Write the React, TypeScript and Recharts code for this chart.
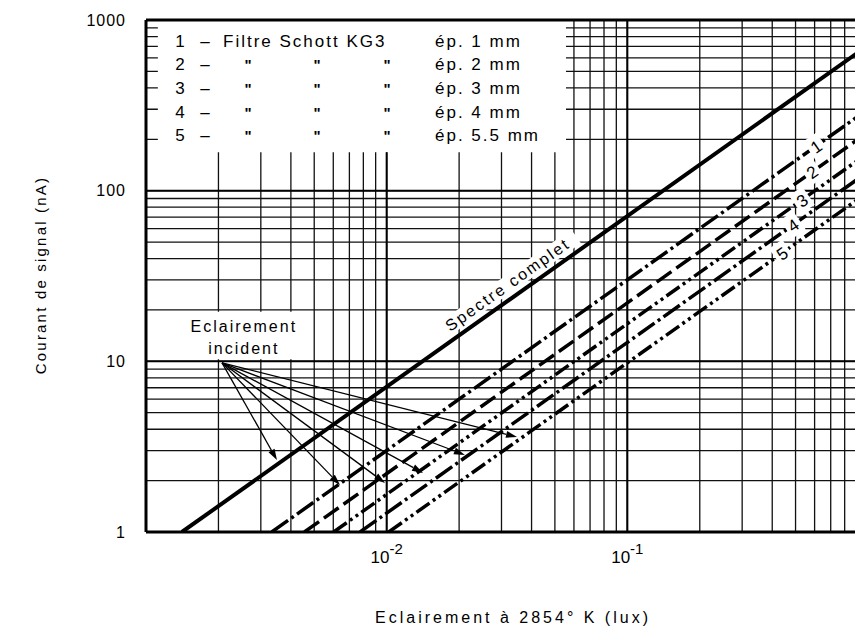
import React from 'react';
import {
  LineChart,
  Line,
  XAxis,
  YAxis,
  CartesianGrid,
  ReferenceLine,
  ReferenceArea,
  ReferenceDot,
} from 'recharts';

const FONT = '"Liberation Sans", Arial, sans-serif';

// grid (log paper) positions
const xGridLux = [
  0.001, 0.002, 0.003, 0.004, 0.005, 0.006, 0.007, 0.008, 0.009,
  0.01, 0.02, 0.03, 0.04, 0.05, 0.06, 0.07, 0.08, 0.09,
  0.1, 0.2, 0.3, 0.4, 0.5, 0.6, 0.7, 0.8, 0.9, 1,
];
const yGridNA = [
  1, 2, 3, 4, 5, 6, 7, 8, 9,
  10, 20, 30, 40, 50, 60, 70, 80, 90,
  100, 200, 300, 400, 500, 600, 700, 800, 900, 1000,
];
const xLabelLux = [0.01, 0.1];
const xLabelExp = ['-2', '-1'];
const yLabelNA = [1, 10, 100, 1000];

// curves: spectre complet + filtres 1..5 (straight in log-log, read at both ends)
const curveNames = ['Spectre complet', '1', '2', '3', '4', '5'];
const startLux = [0.00141, 0.00333, 0.00455, 0.00602, 0.00775, 0.0102];
const startNA = [1, 1, 1, 1, 1, 1];
const endLux = [1, 1, 1, 1, 1, 1];
const endNA = [710, 300, 220, 166, 129, 98];
const curveDash = ['', '20 4 3 4', '18 6', '16 4 3 4 3 4', '20 4 3 4', '16 4 3 4 3 4'];
const curveWidth = [4, 3.5, 3.5, 3.5, 3.5, 3.5];

// curve number labels
const numLabelLux = [0.607, 0.585, 0.531, 0.4875, 0.4387];
const numLabelNA = [182, 129, 88, 63, 43];

// "Eclairement incident" arrows
const arrowFromLux = 0.00207;
const arrowFromNA = 9.8;
const arrowToLux = [0.0035, 0.0064, 0.00984, 0.01416, 0.02114, 0.0348];
const arrowToNA = [2.64, 1.885, 1.94, 2.22, 2.83, 3.6];

// legend
const legendNum = ['1', '2', '3', '4', '5'];
const legendThickness = ['ép. 1 mm', 'ép. 2 mm', 'ép. 3 mm', 'ép. 4 mm', 'ép. 5.5 mm'];

const curveData = curveNames.map((_, k) => [
  { e: startLux[k], i: startNA[k] },
  { e: endLux[k], i: endNA[k] },
]);

const XTick = ({ x, y, payload }: any) => {
  const idx = xLabelLux.indexOf(payload.value);
  if (idx < 0) return <g />;
  return (
    <text x={x} y={y + 29} textAnchor="middle" fontFamily={FONT} fontSize={17} fill="#000">
      10
      <tspan dy={-9} fontSize={15}>{xLabelExp[idx]}</tspan>
    </text>
  );
};

const YTick = ({ x, y, payload }: any) => {
  if (!yLabelNA.includes(payload.value)) return <g />;
  return (
    <text x={x - 18} y={y} textAnchor="end" dominantBaseline="central" fontFamily={FONT} fontSize={16} letterSpacing={1} fill="#000">
      {payload.value}
    </text>
  );
};

const ArrowShape = (props: any) => {
  const { x1, y1, x2, y2 } = props;
  const a = Math.atan2(y2 - y1, x2 - x1);
  const L = 11;
  const W = 3.5;
  const bx = x2 - L * Math.cos(a);
  const by = y2 - L * Math.sin(a);
  const px = -Math.sin(a) * W;
  const py = Math.cos(a) * W;
  return (
    <g>
      <line x1={x1} y1={y1} x2={bx} y2={by} stroke="#000" strokeWidth={1.3} />
      <polygon points={`${x2},${y2} ${bx + px},${by + py} ${bx - px},${by - py}`} fill="#000" />
    </g>
  );
};

const NumLabel = (text: string) => (props: any) => {
  const { cx, cy } = props;
  return (
    <g transform={`translate(${cx},${cy}) rotate(-35)`}>
      <rect x={-8} y={-11} width={16} height={22} fill="#fff" />
      <text x={0} y={1} textAnchor="middle" dominantBaseline="central" fontFamily={FONT} fontSize={17} fill="#000">
        {text}
      </text>
    </g>
  );
};

const SpectreLabel = (props: any) => {
  const { cx, cy } = props;
  return (
    <g transform={`translate(${cx},${cy}) rotate(-35.3)`}>
      <rect x={-2} y={-22} width={160} height={17} fill="#fff" />
      <text x={0} y={-8} fontFamily={FONT} fontSize={16} letterSpacing={2.2} fill="#000">
        Spectre complet
      </text>
    </g>
  );
};

const IncidentLabel = (props: any) => {
  const { cx, cy } = props;
  return (
    <g fontFamily={FONT} fontSize={16} letterSpacing={2} fill="#000">
      <text x={cx} y={cy - 11} textAnchor="middle" dominantBaseline="central">Eclairement</text>
      <text x={cx} y={cy + 11} textAnchor="middle" dominantBaseline="central">incident</text>
    </g>
  );
};

const LegendShape = (props: any) => {
  const { cx, cy } = props;
  return (
    <g fontFamily={FONT} fontSize={17} fill="#000">
      {legendNum.map((n, k) => {
        const y = cy + 21 + k * 23.7;
        return (
          <g key={k}>
            <text x={cx + 34} y={y} textAnchor="middle" dominantBaseline="central">{n}</text>
            <text x={cx + 59} y={y} textAnchor="middle" dominantBaseline="central">–</text>
            {k === 0 ? (
              <text x={cx + 77} y={y} dominantBaseline="central" letterSpacing={2}>Filtre Schott KG3</text>
            ) : (
              [102, 171, 241].map((dx) => (
                <text key={dx} x={cx + dx} y={y} textAnchor="middle" dominantBaseline="central" fontSize={15} fontWeight="bold">"</text>
              ))
            )}
            <text x={cx + 289} y={y} dominantBaseline="central" letterSpacing={2}>{legendThickness[k]}</text>
          </g>
        );
      })}
    </g>
  );
};

const XTitle = (props: any) => {
  const { viewBox } = props;
  return (
    <text x={505} y={viewBox.y + 91} textAnchor="middle" fontFamily={FONT} fontSize={16} letterSpacing={3} fill="#000">
      Eclairement à 2854° K (lux)
    </text>
  );
};

const YTitle = () => (
  <text
    x={32}
    y={267}
    transform="rotate(-90 32 267)"
    textAnchor="middle"
    dominantBaseline="central"
    fontFamily={FONT}
    fontSize={15}
    letterSpacing={2.2}
    fill="#000"
  >
    Courant de signal (nA)
  </text>
);

export default function App() {
  return (
    <div style={{ width: 855, height: 634, overflow: 'hidden', background: '#fff' }}>
      <LineChart width={900} height={634} margin={{ top: 12, right: 40, bottom: 70, left: 0 }}>
        <CartesianGrid stroke="#111" strokeWidth={1.3} horizontal vertical />
        <XAxis
          dataKey="e"
          type="number"
          scale="log"
          domain={[0.001, 1]}
          allowDataOverflow
          ticks={xGridLux}
          interval={0}
          tick={<XTick />}
          tickLine={false}
          tickSize={0}
          height={40}
          axisLine={{ stroke: '#000', strokeWidth: 3 }}
          label={<XTitle />}
        />
        <YAxis
          dataKey="i"
          type="number"
          scale="log"
          domain={[1, 1000]}
          allowDataOverflow
          ticks={yGridNA}
          interval={0}
          tick={<YTick />}
          tickLine={false}
          tickSize={0}
          width={138}
          axisLine={{ stroke: '#000', strokeWidth: 3 }}
          label={<YTitle />}
        />

        <ReferenceArea x1={0.00112} x2={0.0556} y1={168} y2={1000} fill="#fff" fillOpacity={1} stroke="none" ifOverflow="visible" />
        <ReferenceArea x1={0.00104} x2={0.0046} y1={10.3} y2={19.5} fill="#fff" fillOpacity={1} stroke="none" ifOverflow="visible" />

        <ReferenceLine segment={[{ x: 0.01, y: 1 }, { x: 0.01, y: 168 }]} stroke="#000" strokeWidth={2} />
        <ReferenceLine x={0.1} stroke="#000" strokeWidth={2} />
        <ReferenceLine y={10} stroke="#000" strokeWidth={2} />
        <ReferenceLine y={100} stroke="#000" strokeWidth={2} />
        <ReferenceLine y={1000} stroke="#000" strokeWidth={3} />

        {curveNames.map((name, k) => (
          <Line
            key={name}
            data={curveData[k]}
            dataKey="i"
            type="linear"
            stroke="#000"
            strokeWidth={curveWidth[k]}
            strokeDasharray={curveDash[k] || undefined}
            dot={false}
            isAnimationActive={false}
          />
        ))}

        {arrowToLux.map((e, k) => (
          <ReferenceLine
            key={`arr${k}`}
            segment={[{ x: arrowFromLux, y: arrowFromNA }, { x: e, y: arrowToNA[k] }]}
            shape={ArrowShape}
            ifOverflow="visible"
          />
        ))}

        {numLabelLux.map((e, k) => (
          <ReferenceDot key={`n${k}`} x={e} y={numLabelNA[k]} r={1} shape={NumLabel(curveNames[k + 1])} ifOverflow="visible" />
        ))}

        <ReferenceDot x={0.0192} y={13.6} r={1} shape={SpectreLabel} ifOverflow="visible" />
        <ReferenceDot x={0.00255} y={13.7} r={1} shape={IncidentLabel} ifOverflow="visible" />
        <ReferenceDot x={0.001} y={1000} r={1} shape={LegendShape} ifOverflow="visible" />
      </LineChart>
    </div>
  );
}
